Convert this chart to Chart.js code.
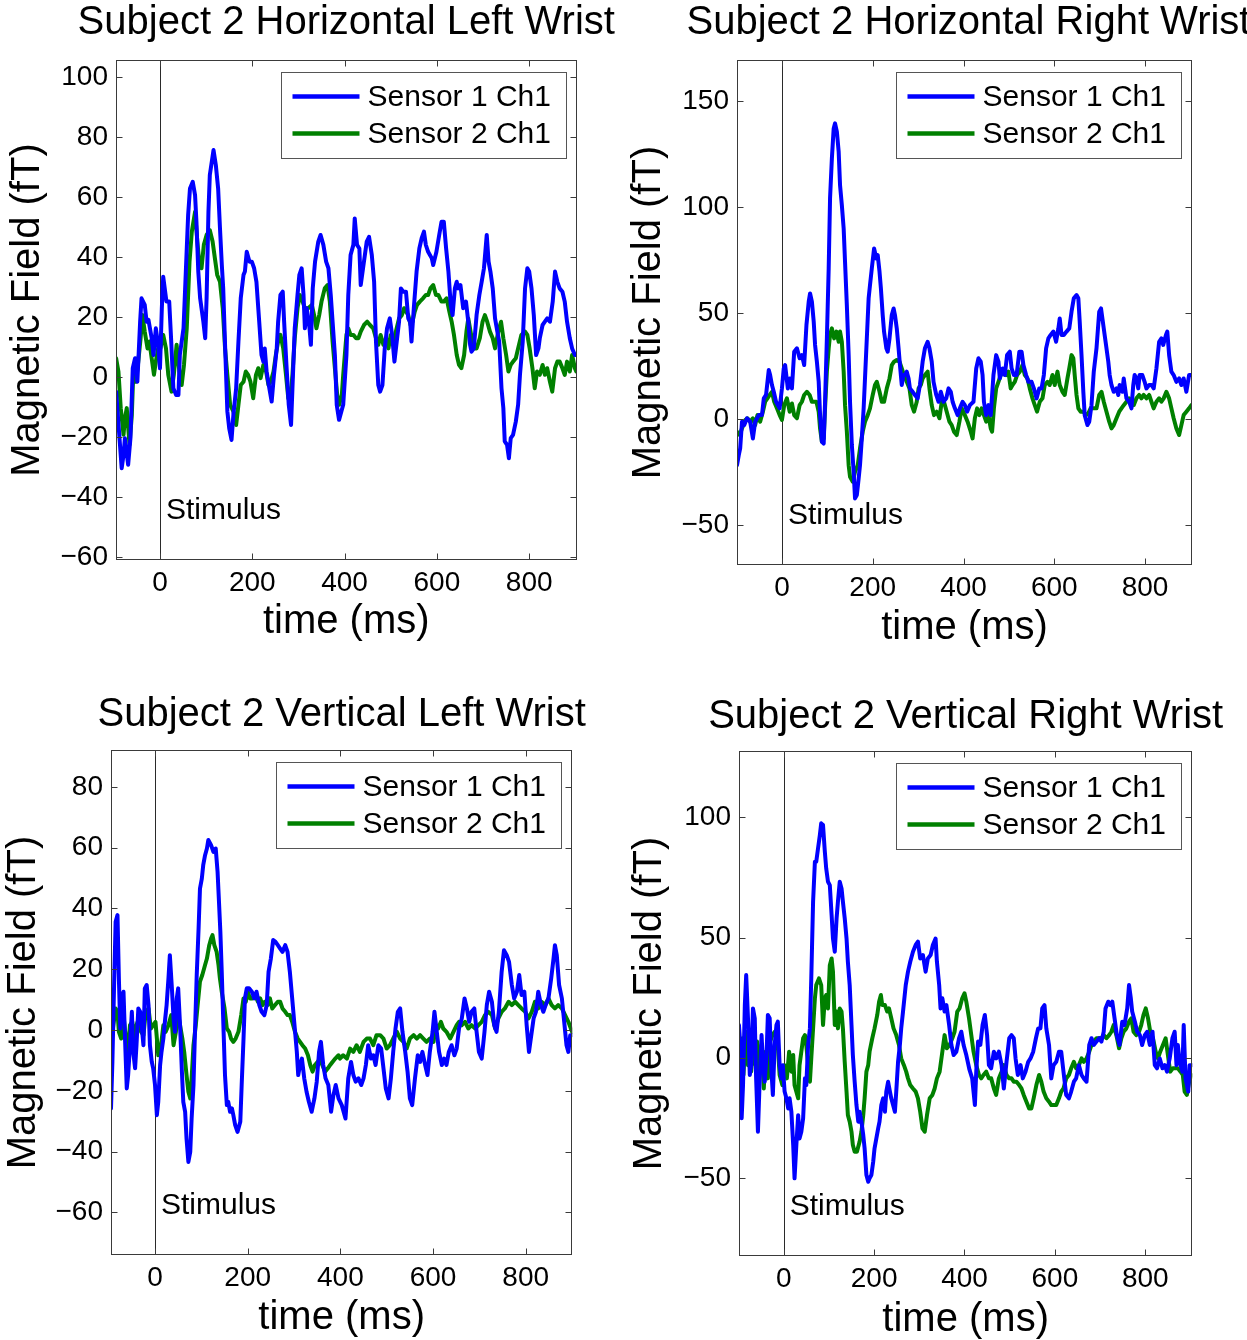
<!DOCTYPE html>
<html><head><meta charset="utf-8">
<script src="https://cdn.jsdelivr.net/npm/chart.js@4.4.1/dist/chart.umd.min.js"></script>
<style>
html,body{margin:0;padding:0;background:#fff;overflow:hidden;width:1247px;height:1340px;}
canvas{position:absolute;display:block;}
</style></head><body>
<canvas id="c1" width="620" height="670" style="left:0;top:0"></canvas>
<canvas id="c2" width="627" height="670" style="left:620px;top:0"></canvas>
<canvas id="c3" width="620" height="660" style="left:0;top:680px"></canvas>
<canvas id="c4" width="627" height="660" style="left:620px;top:680px"></canvas>
<script>
// ---------------- DATA (time ms, field fT) ----------------
const timeTicks = [0, 200, 400, 600, 800];
const hlTicks = [-60, -40, -20, 0, 20, 40, 60, 80, 100];
const hrTicks = [-50, 0, 50, 100, 150];
const vlTicks = [-60, -40, -20, 0, 20, 40, 60, 80];
const vrTicks = [-50, 0, 50, 100];
const seriesLabels = ['Sensor 1 Ch1', 'Sensor 2 Ch1'];
const stimulusLabel = 'Stimulus';

const hlSensor1 = [[-95,-4.9],[-83,-30.4],[-79,-26],[-76,-20.4],[-69,-29.3],[-64,-20.4],[-59,2.9],[-54,6.2],[-49,-1.6],[-43,18.4],[-40,26.2],[-33,24],[-29,18.4],[-25,19],[-18,12.9],[-14,7.3],[-9,16.2],[-4,10.7],[0,2.9],[4,22.9],[7,33.4],[14,25.1],[20,25.1],[24,12.9],[29,-3.8],[35,-6],[40,-6],[43,7.3],[51,16.2],[56,35.1],[61,53.9],[65,62.8],[71,65],[76,60.6],[79,51.7],[83,35.1],[87,26.2],[94,18.4],[98,12.9],[101,26.2],[105,55],[108,67.3],[116,75.6],[121,70.6],[126,62.8],[130,49.5],[134,37.3],[137,29.5],[141,10.7],[146,-11.5],[150,-17.1],[155,-21],[159,-12.7],[165,-3.8],[170,11.8],[175,26.2],[181,34],[184,35.1],[188,41.7],[194,38.4],[199,38.4],[204,36.2],[209,31.7],[215,18.4],[220,7.3],[224,5.1],[227,9.5],[231,1.8],[237,-3.8],[242,-8.2],[247,0.7],[253,9.5],[256,18.4],[261,27.3],[266,28.4],[269,18.4],[274,4],[279,-9.3],[284,-16],[287,-3.8],[292,16.2],[298,27.3],[302,34],[307,36.2],[311,27.3],[314,16.2],[318,22.9],[324,16.2],[327,10.7],[331,29.5],[336,38.4],[343,45.1],[348,47.3],[354,44],[360,38.4],[365,36.2],[370,27.3],[374,18.4],[379,7.3],[383,-9.3],[388,-14.3],[397,-9.3],[404,7.3],[408,27.3],[413,40.6],[419,44],[422,52.8],[427,44],[432,42.8],[435,30.6],[440,36.2],[448,45.1],[453,46.7],[459,40.6],[464,31.7],[468,11.8],[473,-2.7],[477,-4.9],[482,-2.7],[487,9.5],[492,16.2],[498,19.5],[503,14],[508,5.1],[513,11.8],[518,18.4],[522,29.5],[527,28.4],[533,28.4],[538,19.5],[542,18.4],[545,11.8],[550,22.9],[556,35.1],[562,42.8],[567,46.2],[572,48.4],[576,44],[581,41.7],[589,39.5],[592,37.3],[599,41.7],[605,47.3],[610,51.7],[615,51.7],[620,42.8],[625,35.1],[630,24],[634,20.6],[639,29.5],[643,31.7],[646,29.5],[651,30.6],[657,22.9],[663,25.1],[668,18.4],[672,10.7],[675,8.4],[680,9.5],[686,20.6],[692,27.3],[697,31.7],[702,36.2],[708,47.3],[712,38.4],[716,35.1],[721,29.5],[726,19.5],[731,15.1],[735,11.8],[740,-3.8],[744,-10.4],[747,-21.5],[752,-22.6],[756,-27.1],[760,-20.4],[765,-19.3],[771,-14.9],[776,-9.3],[780,0.7],[786,11.8],[791,29.5],[796,36.2],[800,35.1],[805,29.5],[810,20.6],[815,7.3],[820,9.5],[823,12.9],[829,17.3],[834,18.4],[839,19.5],[845,18.4],[851,25.1],[856,35.1],[861,31.7],[866,29.5],[872,28.4],[877,25.1],[882,18.4],[888,12.9],[893,9.5],[899,7.3],[902,7.3]];
const hlSensor2 = [[-95,6.2],[-90,1.8],[-85,-10.4],[-79,-19.3],[-76,-13.8],[-72,-10.4],[-66,-22.6],[-61,-12.7],[-58,0.7],[-52,-1.6],[-47,5.1],[-42,12.9],[-38,20.6],[-33,15.1],[-27,9.5],[-23,11.8],[-18,6.2],[-13,0.7],[-9,5.1],[-4,9.5],[1,9.5],[7,14],[13,9.5],[18,0.7],[25,-4.9],[30,0.7],[36,10.7],[42,1.8],[47,-2.7],[52,4],[58,16.2],[64,38.4],[69,48.4],[76,55],[81,45.1],[85,38.4],[90,36.2],[95,44],[101,47.3],[108,48.9],[114,45.1],[119,39.5],[124,34],[130,31.7],[136,22.9],[141,9.5],[146,0.7],[152,-9.3],[159,-11.5],[165,-16],[170,-9.3],[175,-2.7],[181,-1.6],[186,1.8],[191,0.7],[196,-1.6],[202,-7.1],[208,0.7],[213,2.9],[218,-0.4],[224,4],[230,1.8],[235,-2.7],[240,-1.6],[246,1.8],[251,7.3],[256,11.8],[261,14],[267,9.5],[273,0.7],[278,-7.1],[282,-8.2],[287,0.7],[292,12.9],[298,22.9],[303,27.3],[309,25.1],[314,22.9],[321,22.9],[329,24],[334,20.6],[339,16.2],[345,20.6],[350,25.1],[357,29.5],[363,30.6],[368,25.1],[374,11.8],[379,2.9],[384,-6],[388,-9.3],[394,-6],[397,0.7],[404,14],[408,16.2],[413,14],[419,14],[425,12.9],[430,12.9],[435,15.1],[442,17.3],[449,18.4],[455,17.3],[462,16.2],[468,12.9],[473,10.7],[478,14],[484,10.7],[490,12.9],[495,9.5],[500,14],[505,10.7],[511,15.1],[518,19.5],[524,20.6],[529,22.9],[533,21.8],[538,20.6],[543,17.3],[547,18.4],[552,21.8],[557,24],[563,25.1],[570,26.2],[576,27.3],[581,27.3],[586,29.5],[592,30.6],[598,27.3],[603,27.3],[610,25.1],[615,25.1],[621,26.2],[627,21.8],[632,18.4],[637,14],[643,7.3],[648,4],[653,2.9],[659,7.3],[664,15.1],[668,19.5],[673,15.1],[679,9.5],[686,9.5],[693,12.9],[699,18.4],[704,20.6],[709,18.4],[715,15.1],[721,12.9],[726,9.5],[733,15.1],[739,18.4],[744,12.9],[750,7.3],[755,1.8],[760,4],[765,5.1],[771,6.2],[776,9.5],[783,14],[791,15.1],[796,14],[801,9.5],[807,2.9],[812,-3.8],[817,1.8],[823,0.7],[829,4],[834,0.7],[839,2.9],[845,-1.6],[850,-4.9],[856,2.9],[861,5.1],[866,5.1],[872,2.9],[877,0.7],[882,5.1],[888,1.8],[893,7.3],[899,2.9],[902,1.8]];

const hrSensor1 = [[-99,-21.6],[-95,-16.8],[-92,-13.7],[-88,-1.1],[-83,-2.7],[-77,0.5],[-70,-1.1],[-64,-9],[-59,-1.1],[-51,2],[-44,2],[-40,9.9],[-35,11.5],[-29,23.3],[-26,20.9],[-22,16.2],[-18,13],[-13,8.3],[-5,5.2],[0,14.6],[4,24],[7,25.6],[13,14.6],[17,19.3],[22,14.6],[27,31.9],[33,33.5],[39,28.8],[44,30.3],[49,25.6],[54,44.5],[59,55.5],[62,59.4],[66,55.5],[70,46.1],[73,35.1],[77,27.2],[81,17.7],[84,2],[88,-10.5],[92,-11.4],[95,8.3],[99,38.2],[103,71.2],[106,104.2],[110,123],[114,137.2],[117,139.6],[121,135.7],[125,126.2],[128,110.5],[132,101],[136,90],[139,74.3],[143,53.8],[147,30.3],[150,8.3],[154,-12.1],[158,-24.7],[161,-37.3],[165,-35.7],[169,-27.9],[172,-21.6],[176,-9],[180,5.2],[183,19.3],[187,38.2],[191,57.1],[194,63.3],[198,71.2],[203,80.6],[208,75.9],[211,77.5],[215,69.6],[218,61.8],[222,49.2],[225,41.3],[230,33.5],[233,31.9],[237,38.2],[242,49.2],[246,52.3],[249,49.2],[253,42.9],[257,33.5],[260,25.6],[264,16.2],[268,20.9],[271,20.9],[275,22.5],[279,19.3],[282,14.6],[288,13],[293,11.5],[299,9.9],[304,16.2],[310,27.2],[315,33.5],[321,36.6],[325,33.5],[330,27.2],[334,17.7],[340,11.5],[345,8.3],[350,13],[356,8.3],[362,9.9],[367,14.6],[372,13],[376,8.3],[381,5.2],[387,2],[392,5.2],[398,8.3],[403,6.7],[408,3.6],[414,6.7],[422,8.3],[428,24],[433,28.8],[438,27.2],[442,20.9],[445,8.3],[450,2],[455,6.7],[460,2],[466,20.9],[472,30.3],[477,27.2],[480,19.3],[486,24],[491,20.9],[496,30.3],[502,31.9],[506,24],[511,20.9],[517,20.9],[523,31.9],[528,31.9],[532,25.6],[538,20.9],[543,17.7],[550,17.7],[555,14.6],[561,9.9],[567,14.6],[572,14.6],[577,20.9],[582,33.5],[587,38.2],[592,39.8],[598,41.4],[604,36.6],[609,42.9],[612,47.6],[616,39.8],[621,39.8],[627,41.4],[633,42.9],[638,50.8],[643,57.1],[649,58.6],[653,57.1],[656,46.1],[660,30.3],[664,13],[667,2],[673,-2.7],[677,-1.1],[682,6.7],[687,22.5],[693,33.5],[699,50.8],[703,52.3],[706,47.6],[709,42.9],[714,35.1],[719,27.2],[722,20.9],[726,16.2],[731,13],[737,14.6],[741,11.5],[744,16.2],[750,13],[753,19.3],[759,9.9],[765,8.3],[770,5.2],[774,16.2],[777,20.9],[781,19.3],[785,14.6],[788,20.9],[794,20.9],[799,17.7],[803,14.6],[809,16.2],[814,16.2],[819,14.6],[825,24],[831,36.6],[836,38.2],[840,35.1],[846,39.8],[849,41.4],[853,30.3],[858,22.5],[863,20.9],[869,17.7],[875,19.3],[880,16.2],[885,19.3],[891,13],[897,20.9],[902,20.9]];
const hrSensor2 = [[-99,-5.8],[-93,-7.4],[-88,-4.3],[-81,-0.3],[-76,0.5],[-70,-1.1],[-64,0.5],[-59,-2.7],[-54,2],[-48,-1.1],[-42,3.6],[-37,8.3],[-32,9.9],[-27,11.5],[-22,13],[-17,8.3],[-11,5.2],[-5,2],[0,-0.3],[5,6.7],[11,9.9],[17,3.6],[22,7.5],[27,2],[33,0.5],[39,6.7],[44,8.3],[49,11.5],[55,13],[61,11.5],[66,8.3],[71,8.3],[76,8.3],[81,3.6],[84,-4.3],[88,-10.5],[92,-9],[95,5.2],[99,22.5],[103,33.5],[106,39.8],[110,42.9],[115,38.2],[120,41.4],[125,36.6],[128,41.4],[132,36.6],[136,22.5],[139,6.7],[143,-5.8],[147,-21.6],[150,-27.1],[156,-29.4],[161,-24.7],[167,-21.6],[172,-13.7],[178,-5.8],[183,-1.1],[189,2],[194,5.2],[200,11.5],[205,16.2],[209,17.7],[215,13],[220,8.3],[225,8.3],[231,14.6],[237,19.3],[242,25.6],[247,27.2],[253,28],[259,27.2],[264,24],[269,20.9],[275,17.7],[281,14.6],[286,6.7],[291,3.6],[297,8.3],[301,14.6],[306,16.2],[310,19.3],[315,20.9],[321,22.5],[325,14.6],[330,6.7],[335,2],[341,3.6],[347,0.5],[352,8.3],[357,8.3],[363,3.6],[369,-1.1],[374,-2.7],[379,-5.8],[385,-7.4],[391,-1.1],[396,5.2],[403,2],[409,-1.1],[416,-5.8],[420,-9],[425,0.5],[430,5.2],[435,2],[440,5.2],[445,2],[450,-1.1],[455,2],[460,-4.3],[463,-5.8],[467,5.2],[472,14.6],[477,17.7],[482,20.9],[488,22.5],[494,20.9],[499,22.5],[504,14.6],[508,16.2],[513,17.7],[518,20.9],[524,22.5],[530,25.6],[535,20.9],[541,19.3],[546,14.6],[552,9.9],[557,6.7],[562,3.6],[568,8.3],[574,9.9],[579,16.2],[585,17.7],[590,16.2],[596,20.9],[601,16.2],[607,22.5],[612,16.2],[618,13],[623,11.5],[629,19.3],[633,24],[638,30.3],[642,28.8],[645,20.9],[649,11.5],[653,5.2],[658,3.6],[664,3.6],[670,2],[675,2.8],[680,5.2],[686,5.2],[693,5.2],[699,11.5],[704,13],[709,8.3],[715,3.6],[721,-1.1],[726,-4.3],[731,-2.7],[737,0.5],[743,3.6],[748,5.2],[753,6.7],[759,8.3],[765,9.9],[770,8.3],[775,6.7],[781,9.9],[787,11.5],[792,9.9],[797,11.5],[803,9.9],[809,11.5],[814,8.3],[819,5.2],[825,8.3],[831,9.9],[836,8.3],[841,9.9],[847,13],[853,9.9],[858,5.2],[863,0.5],[869,-4.3],[875,-7.4],[880,-2.7],[885,2],[891,3.6],[897,5.2],[902,6.7]];

const vlSensor1 = [[-95,-25.8],[-92,-10.5],[-88,17],[-85,35.6],[-81,37.8],[-78,17],[-75,0.5],[-71,11.5],[-68,12.6],[-65,-1.7],[-61,-19.2],[-58,-14.8],[-54,-5],[-50,6],[-47,-7.2],[-43,-12.6],[-40,-5],[-36,7.1],[-32,6],[-29,1.6],[-25,-5],[-22,13.7],[-18,14.8],[-14,8.2],[-11,-5],[-7,-10.5],[-4,-12.6],[0,-18.1],[4,-28],[7,-23.6],[11,-11.5],[14,-7.2],[18,-2.8],[22,3.8],[25,8.2],[29,17],[32,24.6],[36,14.8],[40,3.8],[43,-0.6],[47,10.4],[50,13.7],[54,1.6],[58,-13.7],[61,-23.6],[65,-26.9],[68,-35.7],[72,-43.4],[76,-40.1],[79,-29.1],[83,-18.1],[86,-1.7],[90,18.1],[94,33.4],[97,46.5],[101,49.8],[104,54.2],[108,57.5],[112,59.7],[115,62.5],[121,60.8],[126,58.6],[131,59.7],[135,52],[138,42.2],[141,32.3],[144,19.1],[148,-0.6],[151,-14.8],[155,-24.7],[158,-23.6],[162,-26.9],[166,-25.8],[169,-28],[173,-31.3],[178,-33.5],[184,-30.2],[187,-18.1],[191,-2.8],[194,10.4],[198,13.7],[203,13.7],[209,12.6],[214,10.4],[219,12.6],[225,8.2],[230,6],[236,4.9],[241,8.2],[245,19.1],[250,23.5],[255,29.6],[260,29],[265,27.9],[270,26.8],[275,25.7],[281,27.9],[286,25.7],[291,19.1],[296,10.4],[301,1.6],[306,-7.2],[309,-14.8],[313,-11.5],[317,-9.4],[322,-15.9],[327,-20.3],[332,-23.6],[338,-26.9],[344,-22.5],[349,-17],[354,-7.2],[358,-3.9],[363,-11.5],[368,-15.9],[374,-18.1],[380,-26.9],[385,-21.4],[390,-18.1],[396,-22.5],[403,-24.7],[411,-29.1],[417,-15.9],[423,-10.5],[428,-14.8],[433,-17],[439,-15.9],[445,-18.1],[450,-15.9],[455,-11.5],[460,-5],[466,-9.4],[471,-8.3],[476,-11.5],[482,-5],[488,-6.1],[493,-12.6],[498,-19.2],[504,-22.5],[509,-15.9],[514,-7.2],[519,0.5],[524,6],[529,7.1],[534,-0.6],[540,-7.2],[545,-13.7],[550,-22.5],[555,-24.7],[561,-15.9],[567,-8.3],[572,-10.5],[577,-7.2],[583,-11.5],[588,-14.8],[593,-7.2],[599,-0.6],[603,6],[608,-0.6],[613,-7.2],[619,-11.5],[624,-9.4],[629,-11.5],[634,-7.2],[640,-5],[646,-8.3],[651,-6.1],[656,0.5],[662,3.8],[668,10.4],[673,7.1],[678,2.7],[683,6],[689,7.1],[694,-0.6],[699,-7.2],[705,-9.4],[711,-0.6],[716,8.2],[721,12.6],[727,9.3],[732,1.6],[737,-0.6],[742,6],[748,19.1],[753,26.2],[759,24.6],[764,22.4],[770,14.8],[775,10.4],[781,12.6],[786,18.1],[791,11.5],[797,12.6],[802,1.6],[807,-7.2],[811,-2.8],[817,3.8],[822,6],[827,12.6],[833,8.2],[838,6],[843,8.2],[849,10.4],[855,17],[860,23.5],[863,27.9],[867,24.6],[872,14.8],[878,10.4],[883,2.7],[888,-5],[892,-7.2],[896,-1.7],[900,-1.7]];
const vlSensor2 = [[-95,-5],[-90,1.6],[-85,7.1],[-81,6],[-78,-0.6],[-73,-2.8],[-68,4.9],[-63,-2.8],[-59,-7.2],[-54,1.6],[-49,2.7],[-45,-5],[-40,1.6],[-35,3.8],[-30,-0.6],[-25,-1.7],[-20,6],[-14,7.1],[-9,0.5],[-4,1.6],[1,2.7],[7,-8.3],[13,-5],[18,1.6],[23,-0.6],[29,1.6],[35,4.9],[40,-5],[45,-0.6],[49,6],[54,1.6],[59,-2.8],[63,-7.2],[68,-14.8],[72,-20.3],[76,-22.5],[79,-15.9],[83,-5],[88,1.6],[92,8.2],[97,15.9],[102,18.1],[108,21.4],[112,23.5],[117,27.9],[121,30.1],[124,31.2],[128,27.9],[133,25.7],[137,21.4],[140,17],[144,12.6],[150,7.1],[155,0.5],[160,-0.6],[164,-2.8],[169,-3.9],[174,-2.8],[180,-0.6],[186,4.9],[191,10.4],[196,9.3],[200,12.6],[205,10.4],[210,10.4],[216,11.5],[222,9.3],[227,10.4],[232,8.2],[237,9.3],[243,8.2],[248,10.4],[253,7.1],[259,8.2],[265,9.3],[270,9.3],[275,7.1],[281,6],[286,4.9],[291,4.9],[296,2.7],[302,-0.6],[308,-2.8],[313,-3.9],[318,-5],[324,-6.1],[330,-8.3],[335,-11.5],[340,-13.7],[345,-11.5],[351,-10.5],[356,-9.4],[361,-11.5],[367,-13.7],[373,-12.6],[378,-11.5],[383,-10.5],[389,-9.4],[396,-8.3],[399,-9.4],[406,-8.3],[414,-9.4],[421,-6.1],[428,-7.2],[435,-5],[442,-7.2],[450,-3.9],[457,-2.8],[464,-2.8],[471,-5],[478,-1.7],[486,-1.7],[493,-2.8],[500,-6.1],[507,-5],[514,-2.8],[522,-0.6],[529,-2.8],[536,-3.9],[543,-6.1],[550,-2.8],[558,-1.7],[565,-2.8],[572,-1.7],[579,-2.8],[586,-3.9],[593,-2.8],[601,-3.9],[606,1.6],[611,0.5],[617,2.7],[622,0.5],[629,-0.6],[637,-2.8],[644,-0.6],[651,1.6],[656,2.7],[662,1.6],[669,2.7],[676,0.5],[683,1.6],[691,0.5],[698,1.6],[705,2.7],[712,4.9],[719,6],[727,4.9],[734,0.5],[741,3.8],[748,6],[755,7.1],[763,9.3],[770,8.2],[777,9.3],[784,8.2],[791,7.1],[799,6],[806,3.8],[813,6],[820,9.3],[827,7.1],[834,9.3],[842,8.2],[849,10.4],[856,8.2],[863,7.1],[870,8.2],[878,7.1],[885,4.9],[892,2.7],[900,-0.6]];

const vrSensor1 = [[-99,13.6],[-96,5.3],[-93,-25.2],[-90,-11.4],[-86,21.9],[-83,34.4],[-79,16.4],[-75,-7.2],[-72,-3.1],[-68,20.5],[-64,16.4],[-61,-8.6],[-57,-30.8],[-53,-8.6],[-49,9.4],[-46,-1.7],[-42,-10],[-38,1.1],[-35,17.8],[-31,16.4],[-27,-5.8],[-24,-15.5],[-20,5.3],[-16,13.6],[-13,15],[-9,-3.1],[-5,-8.6],[-2,-3.1],[2,-14.1],[6,-16.9],[10,-21.1],[13,-16.9],[17,-22.5],[21,-36.3],[24,-50.2],[28,-36.3],[32,-23.9],[35,-33.6],[39,-30.8],[43,-25.2],[47,-8.6],[50,-11.4],[54,5.3],[58,12.2],[61,33],[65,64.9],[69,81.5],[72,81.5],[76,87.1],[80,92.6],[83,97.5],[87,96.8],[91,85.7],[94,78.8],[98,73.2],[102,71.8],[106,59.3],[109,49.6],[113,44.1],[117,58],[120,64.9],[124,73.2],[128,70.4],[131,64.9],[135,58],[139,49.6],[142,39.9],[146,30.2],[150,13.6],[153,1.1],[157,-10],[161,-19.7],[165,-26.6],[168,-22.5],[172,-26.6],[176,-32.2],[179,-37.7],[183,-48.8],[187,-51.6],[190,-50.2],[194,-48.8],[198,-43.3],[201,-37.7],[205,-33.6],[209,-29.4],[212,-26.6],[216,-19.7],[220,-16.9],[224,-22.5],[227,-14.1],[231,-10],[235,-14.1],[238,-16.9],[242,-19.7],[246,-22.5],[249,-14.1],[253,-1.7],[257,5.3],[260,12.2],[264,19.2],[270,30.2],[275,35.8],[280,39.9],[286,44.1],[292,46.9],[297,48.3],[302,41.3],[308,42.7],[314,35.8],[319,41.3],[325,42.7],[330,46.9],[336,49.6],[339,39.9],[344,30.2],[347,20.5],[351,24.7],[356,19.2],[360,21.9],[366,13.6],[371,5.3],[376,1.1],[382,2.5],[388,8.1],[393,10.8],[398,5.3],[404,1.1],[411,-5],[417,-8.6],[423,-19.7],[426,-5.8],[430,6.7],[435,5.3],[440,13.6],[445,17.8],[450,9.4],[454,-3.1],[459,-4.4],[465,2.5],[470,-0.3],[476,2.5],[482,-3.1],[487,-12.8],[493,-1.7],[499,8.1],[504,9.4],[509,8.1],[513,-0.3],[518,-7.2],[524,-3.1],[529,-8.6],[535,-5.8],[541,-1.7],[546,-0.3],[552,2.5],[558,8.1],[563,12.2],[568,12.2],[572,20.5],[577,21.9],[581,12.2],[587,5.3],[592,-8.6],[597,-3.1],[603,-1.7],[609,2.5],[614,2.5],[619,-5.8],[625,-15.5],[631,-16.9],[636,-14.1],[642,-10],[647,-8.6],[653,-3.1],[659,-7.2],[664,-8.6],[670,-10],[676,5.3],[681,8.1],[686,5.3],[692,6.7],[698,8.1],[703,6.7],[708,10.8],[712,20.5],[718,23.3],[723,21.9],[727,23.3],[732,16.4],[737,9.4],[743,5.3],[749,15],[754,13.6],[760,20.5],[764,30.2],[768,24.7],[771,19.2],[777,15],[782,10.8],[788,9.4],[793,5.3],[799,9.4],[804,10.8],[810,5.3],[816,10.8],[821,-3.1],[826,-4.4],[832,-0.3],[838,-4.4],[843,-3.1],[848,-5.8],[854,-0.3],[860,8.1],[865,10.8],[869,-3.1],[872,5.3],[876,-1.7],[882,-5.8],[885,13.6],[889,-8.6],[895,-14.1],[898,-3.1],[904,-3.1]];
const vrSensor2 = [[-99,5.3],[-96,-3.1],[-91,8.1],[-89,-7.2],[-84,10.8],[-79,-3.1],[-75,8.1],[-72,-5.8],[-66,8.1],[-62,-3.1],[-59,6.7],[-55,-7.2],[-49,5.3],[-44,-12.8],[-40,2.5],[-35,-8.6],[-30,6.7],[-25,9.4],[-20,10.8],[-15,10.8],[-9,-7.2],[-3,-11.4],[2,-3.1],[7,-8.6],[12,2.5],[17,-5.8],[21,1.1],[24,-11.4],[28,-14.1],[32,-16.9],[35,-3.1],[39,2.5],[43,8.1],[47,9.4],[50,5.3],[54,-3.1],[58,-10],[61,-0.3],[65,12.2],[69,24.7],[72,30.2],[78,33],[83,30.2],[87,13.6],[91,24.7],[94,26.1],[98,20.5],[102,38.5],[106,41.3],[109,35.8],[113,13.6],[117,19.2],[120,12.2],[124,20.5],[128,19.2],[131,12.2],[135,-1.7],[139,-14.1],[142,-23.9],[146,-26.6],[150,-30.8],[153,-36.3],[157,-39.1],[162,-39.1],[168,-34.9],[172,-30.8],[176,-23.9],[179,-16.9],[183,-5.8],[187,-3.1],[190,2.5],[196,8.1],[201,12.2],[207,17.8],[211,23.3],[215,26.1],[218,21.9],[224,21.9],[229,19.2],[233,20.5],[238,16.4],[243,12.2],[249,9.4],[255,5.3],[260,-0.3],[266,-3.1],[271,-5.8],[275,-8.6],[280,-11.4],[286,-12.8],[292,-14.1],[297,-16.9],[302,-22.5],[307,-29.4],[312,-30.8],[317,-23.9],[323,-16.9],[329,-15.5],[334,-12.8],[339,-8.6],[345,-5.8],[351,2.5],[356,9.4],[361,3.9],[367,5.3],[373,8.1],[378,10.8],[384,19.2],[389,20.5],[395,24.7],[400,26.8],[404,23.3],[410,16.4],[415,9.4],[420,2.5],[426,-3.1],[432,-7.2],[437,-8.6],[442,-7.2],[448,-5.8],[454,-8.6],[459,-8.6],[465,-12.8],[470,-15.5],[476,-8.6],[482,-5.8],[487,-3.1],[493,-7.2],[499,-8.6],[504,-8.6],[509,-10],[515,-10],[521,-11.4],[526,-12.8],[531,-15.5],[537,-18.3],[543,-21.1],[548,-21.1],[553,-16.9],[559,-11.4],[565,-7.2],[570,-10],[575,-14.1],[581,-16.9],[587,-18.3],[592,-19.7],[597,-19.7],[603,-19.7],[609,-16.9],[614,-14.1],[619,-12.8],[625,-8.6],[631,-7.2],[636,-4.4],[642,-1.7],[647,-4.4],[653,-3.1],[659,-0.3],[664,-1.7],[670,-0.3],[676,2.5],[681,5.3],[686,6.7],[692,8.1],[698,8.1],[703,8.1],[708,9.4],[714,8.1],[720,9.4],[725,10.8],[730,13.6],[736,9.4],[742,3.9],[747,8.1],[752,10.8],[758,12.2],[764,15],[769,16.4],[774,10.8],[780,9.4],[786,10.8],[791,13.6],[796,17.8],[801,20.5],[806,16.4],[811,10.8],[817,8.1],[823,2.5],[828,-0.3],[833,2.5],[839,5.3],[845,8.1],[850,1.1],[855,-5.8],[861,-4.4],[867,-4.4],[872,-4.4],[878,-5.8],[883,-7.2],[887,-14.1],[892,-15.5],[897,-10],[902,-7.2]];

// ---------------- RENDERING ----------------
const FONT = '"Liberation Sans", Arial, Helvetica, sans-serif';
const BLUE = '#0000ff', GREEN = '#008000';

const panels = [
  {id:'c1', title:'Subject 2 Horizontal Left Wrist', s1:hlSensor1, s2:hlSensor2, yTicks:hlTicks,
   xMin:-95.3, xMax:902.5, yMin:-61, yMax:105.6, padTop:60, padRight:43.5, yAxisW:116, xAxisH:110, titleY:23, titleDx:0, yTitlePad:8, xTitlePad:28},
  {id:'c2', title:'Subject 2 Horizontal Right Wrist', s1:hrSensor1, s2:hrSensor2, yTicks:hrTicks,
   xMin:-99, xMax:903.4, yMin:-68.7, yMax:169.5, padTop:60, padRight:55, yAxisW:117, xAxisH:105, titleY:23, titleDx:4, yTitlePad:9, xTitlePad:22},
  {id:'c3', title:'Subject 2 Vertical Left Wrist', s1:vlSensor1, s2:vlSensor2, yTicks:vlTicks,
   xMin:-95, xMax:900.5, yMin:-74, yMax:92.1, padTop:70, padRight:47.7, yAxisW:111, xAxisH:85, titleY:35, titleDx:0, yTitlePad:4, xTitlePad:2},
  {id:'c4', title:'Subject 2 Vertical Right Wrist', s1:vrSensor1, s2:vrSensor2, yTicks:vrTicks,
   xMin:-98.9, xMax:904, yMin:-82.5, yMax:127.6, padTop:71, padRight:54.7, yAxisW:119, xAxisH:84, titleY:37, titleDx:0, yTitlePad:10, xTitlePad:0}
];

function fmt(v) { return v < 0 ? '\u2212' + Math.abs(v) : String(v); }

function makeFramePlugin(p) {
  return {
    id: 'matlabFrame',
    beforeDatasetsDraw(chart) {
      const {ctx, chartArea: a} = chart;
      const sx = Math.round(chart.scales.x.getPixelForValue(0)) + 0.5;
      ctx.save();
      ctx.strokeStyle = '#2a2a2a'; ctx.lineWidth = 1;
      ctx.beginPath(); ctx.moveTo(sx, a.top); ctx.lineTo(sx, a.bottom); ctx.stroke();
      ctx.restore();
    },
    afterDraw(chart) {
      const {ctx, chartArea: a} = chart;
      const x = chart.scales.x, y = chart.scales.y;
      const L = Math.round(a.left) + 0.5, R = Math.round(a.right) - 0.5;
      const T = Math.round(a.top) + 0.5, B = Math.round(a.bottom) - 0.5;
      ctx.save();
      ctx.strokeStyle = '#3a3a3a'; ctx.lineWidth = 1;
      ctx.strokeRect(L, T, R - L, B - T);
      ctx.beginPath();
      timeTicks.forEach(v => {
        const px = Math.round(x.getPixelForValue(v)) + 0.5;
        ctx.moveTo(px, B); ctx.lineTo(px, B - 6);
        ctx.moveTo(px, T); ctx.lineTo(px, T + 6);
      });
      p.yTicks.forEach(v => {
        const py = Math.round(y.getPixelForValue(v)) + 0.5;
        ctx.moveTo(L, py); ctx.lineTo(L + 6, py);
        ctx.moveTo(R, py); ctx.lineTo(R - 6, py);
      });
      ctx.stroke();
      // stimulus label
      ctx.fillStyle = '#000'; ctx.font = '30px ' + FONT;
      ctx.textAlign = 'left'; ctx.textBaseline = 'middle';
      ctx.fillText(stimulusLabel, x.getPixelForValue(0) + 6, a.bottom - 49);
      // legend
      const bw = 285, bh = 86;
      const bx = Math.round(a.right - 11 - bw) + 0.5, by = Math.round(a.top + 12) + 0.5;
      ctx.fillStyle = '#fff'; ctx.fillRect(bx, by, bw, bh);
      ctx.strokeStyle = '#555'; ctx.lineWidth = 1; ctx.strokeRect(bx, by, bw, bh);
      chart.data.datasets.forEach((ds, i) => {
        const ly = by + 24 + i * 37;
        ctx.strokeStyle = ds.borderColor; ctx.lineWidth = 4.5;
        ctx.beginPath(); ctx.moveTo(bx + 11, ly); ctx.lineTo(bx + 78, ly); ctx.stroke();
        ctx.fillStyle = '#000'; ctx.font = '30px ' + FONT;
        ctx.fillText(ds.label, bx + 86, ly + 1);
      });
      // title
      ctx.font = '40px ' + FONT; ctx.textAlign = 'center'; ctx.textBaseline = 'middle';
      ctx.fillStyle = '#000';
      ctx.fillText(p.title, (a.left + a.right) / 2 + p.titleDx, p.titleY);
      ctx.restore();
    }
  };
}

panels.forEach(p => {
  const toXY = arr => arr.map(d => ({x: d[0], y: d[1]}));
  new Chart(document.getElementById(p.id), {
    type: 'line',
    data: {
      datasets: [
        {label: seriesLabels[0], data: toXY(p.s1), borderColor: BLUE, backgroundColor: BLUE, borderWidth: 4, pointRadius: 0, tension: 0, fill: false, borderJoinStyle: 'round', borderCapStyle: 'round'},
        {label: seriesLabels[1], data: toXY(p.s2), borderColor: GREEN, backgroundColor: GREEN, borderWidth: 4, pointRadius: 0, tension: 0, fill: false, borderJoinStyle: 'round', borderCapStyle: 'round'}
      ]
    },
    options: {
      responsive: false, animation: false, devicePixelRatio: 1,
      layout: {padding: {left: 0, top: p.padTop, right: p.padRight, bottom: 0}},
      plugins: {legend: {display: false}, tooltip: {enabled: false}, title: {display: false}},
      scales: {
        x: {
          type: 'linear', min: p.xMin, max: p.xMax,
          afterBuildTicks: s => { s.ticks = timeTicks.map(v => ({value: v})); },
          afterFit: s => { s.height = p.xAxisH; },
          grid: {display: false, drawTicks: false}, border: {display: false},
          ticks: {autoSkip: false, maxRotation: 0, minRotation: 0, padding: 9, color: '#000',
                  font: {family: FONT, size: 28, lineHeight: 1}, callback: v => fmt(v)},
          title: {display: true, text: 'time (ms)', color: '#000', font: {family: FONT, size: 40, lineHeight: 1},
                  padding: {top: 0, bottom: p.xTitlePad}}
        },
        y: {
          type: 'linear', min: p.yMin, max: p.yMax,
          afterBuildTicks: s => { s.ticks = p.yTicks.map(v => ({value: v})); },
          afterFit: s => { s.width = p.yAxisW; },
          grid: {display: false, drawTicks: false}, border: {display: false},
          ticks: {autoSkip: false, padding: 8, color: '#000', font: {family: FONT, size: 28, lineHeight: 1}, callback: v => fmt(v)},
          title: {display: true, text: 'Magnetic Field (fT)', color: '#000', font: {family: FONT, size: 40, lineHeight: 1},
                  padding: {top: p.yTitlePad, bottom: 0}}
        }
      }
    },
    plugins: [makeFramePlugin(p)]
  });
});
</script>
</body></html>
